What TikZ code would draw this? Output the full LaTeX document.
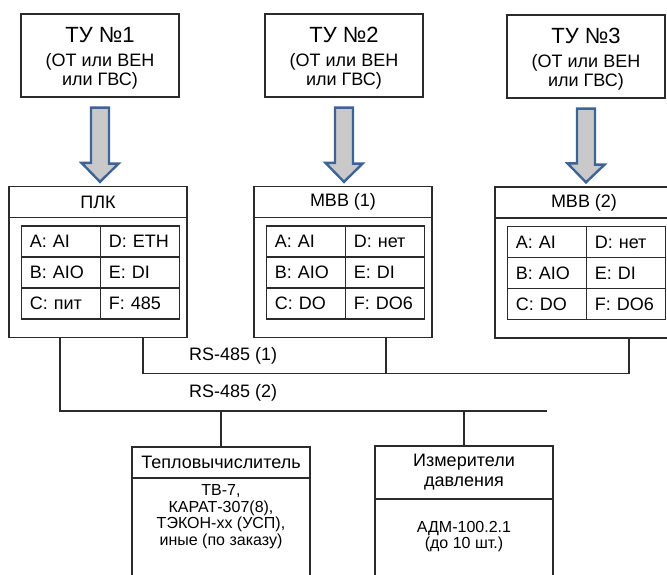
\documentclass[tikz,border=0pt]{standalone}
\usepackage{fontspec}
\setmainfont{Liberation Sans}
\usepackage{xcolor}
\usepackage{tikz}
\usetikzlibrary{positioning,calc,matrix}
\definecolor{boxline}{HTML}{2B2B2B}
\definecolor{arrowblue}{HTML}{3D6494}
\definecolor{arrowgray}{HTML}{C9C9C9}
\newcommand{\fsbig}{\fontsize{22}{24}\selectfont}
\newcommand{\fsmid}{\fontsize{18}{20}\selectfont}
\newcommand{\fssmall}{\fontsize{16}{16.5}\selectfont}
\newcommand{\tutext}[1]{\raisebox{-8pt}[0pt][0pt]{\begin{tabular}{@{}c@{}}{\fsbig ТУ №#1}\\[4pt](ОТ или ВЕН\\[-1pt]или ГВС)\end{tabular}}}
\tikzset{
  tubox/.style={
    rectangle, draw=boxline, line width=1.3pt,
    minimum width=158pt, minimum height=83pt,
    font=\fsmid, align=center, inner sep=0pt
  },
  unitbox/.style={
    rectangle, draw=boxline, line width=1.3pt,
    minimum width=178pt, minimum height=151pt
  },
  unithead/.style={
    rectangle, draw=boxline, line width=1.3pt,
    minimum width=178pt, minimum height=#1,
    font=\fsmid, align=center, inner sep=0pt
  },
  unithead/.default=31pt,
  cellbox/.style={
    rectangle, draw=boxline, line width=1.6pt, outer sep=0pt,
    minimum height=31pt, text width=62pt, text height=13pt, text depth=0pt,
    inner xsep=8.5pt, inner ysep=0pt, align=left, font=\fsmid
  },
  celltab/.style={
    matrix of nodes, inner sep=0pt, column sep=-1.6pt, row sep=-1.6pt,
    nodes={cellbox, anchor=center}
  },
  devbox/.style={
    rectangle, draw=boxline, line width=1.3pt,
    minimum width=178pt, minimum height=144pt
  },
  devtext/.style={
    font=\fssmall, align=center, inner sep=0pt
  },
  blockarrow/.style={
    draw=arrowblue, fill=arrowgray, line width=2.4pt, line join=miter
  },
  busline/.style={
    draw=boxline, line width=1.4pt
  },
  buslabel/.style={
    font=\fsmid, inner sep=0pt
  },
}
\begin{document}
\begin{tikzpicture}[x=1pt, y=-1pt]
  \useasboundingbox (0,0) rectangle (667,575);
  \clip (0,0) rectangle (667,575);

  % Technological units
  \node[tubox] (tu1) at (100,55.5) {\tutext{1}};
  \node[tubox] (tu2) at (344,55.5) {\tutext{2}};
  \node[tubox] (tu3) at (586,56.5) {\tutext{3}};

  % Controller and I/O modules
  \node[unitbox] (plk) at (98,262) {};
  \node[unithead, anchor=north] (plkhead) at (plk.north) {ПЛК};
  \matrix[celltab, anchor=north west] (plktab) at ($(plk.north west)+(12,39)$) {
    A: AI & D: ETH \\
    B: AIO & E: DI \\
    C: пит & F: 485 \\
  };

  \node[unitbox] (mvba) at (343,262) {};
  \node[unithead, anchor=north] (mvbahead) at (mvba.north) {МВВ (1)};
  \matrix[celltab, anchor=north west] (mvbatab) at ($(mvba.north west)+(12,39)$) {
    A: AI & D: нет \\
    B: AIO & E: DI \\
    C: DO & F: DO6 \\
  };

  \node[unitbox] (mvbb) at (584,262.5) {};
  \node[unithead, anchor=north] (mvbbhead) at (mvbb.north) {МВВ (2)};
  \matrix[celltab, anchor=north west] (mvbbtab) at ($(mvbb.north west)+(12,39)$) {
    A: AI & D: нет \\
    B: AIO & E: DI \\
    C: DO & F: DO6 \\
  };

  % Signal arrows
  \draw[blockarrow] ($(tu1.south)+(-9,10)$) -- ++(18,0) -- ++(0,56) -- ++(9.5,0)
    -- ($(tu1.south |- plk.north)+(0,-4)$) -- ++(-18.5,-19) -- ++(9.5,0) -- cycle;
  \draw[blockarrow] ($(tu2.south)+(-9,10)$) -- ++(18,0) -- ++(0,56) -- ++(9.5,0)
    -- ($(tu2.south |- mvba.north)+(0,-4)$) -- ++(-18.5,-19) -- ++(9.5,0) -- cycle;
  \draw[blockarrow] ($(tu3.south)+(-9,10)$) -- ++(18,0) -- ++(0,56) -- ++(9.5,0)
    -- ($(tu3.south |- mvbb.north)+(0,-4)$) -- ++(-18.5,-19) -- ++(9.5,0) -- cycle;

  % Meters
  \node[devbox] (teplo) at (221,519) {};
  \node[unithead, anchor=north] (teplohead) at (teplo.north) {Тепловычислитель};
  \node[devtext, below=6pt of teplohead] (teplotext)
    {ТВ-7,\\КАРАТ-307(8),\\ТЭКОН-xx (УСП),\\иные (по заказу)};

  \node[devbox] (izmer) at (464,518) {};
  \node[unithead=53pt, anchor=north] (izmerhead) at (izmer.north) {Измерители\\давления};
  \node[devtext, below=21pt of izmerhead] (izmertext) {АДМ-100.2.1\\(до 10 шт.)};

  % RS-485 lines
  \coordinate (bus2end) at (547,411);
  \draw[busline] ($(plk.south)+(45,0)$) |- ($(mvbb.south)+(45,35)$) -- ($(mvbb.south)+(45,0)$);
  \draw[busline] ($(mvba.south)+(43,0)$) -- ++(0,35);
  \draw[busline] ($(plk.south)+(-38,0)$) |- (bus2end);
  \draw[busline] (teplo.north) -- (teplo.north |- bus2end);
  \draw[busline] (izmer.north) -- (izmer.north |- bus2end);
  \node[buslabel, anchor=west] (rs1) at (189,356) {RS-485 (1)};
  \node[buslabel, anchor=west] (rs2) at (189,393) {RS-485 (2)};
\end{tikzpicture}
\end{document}
